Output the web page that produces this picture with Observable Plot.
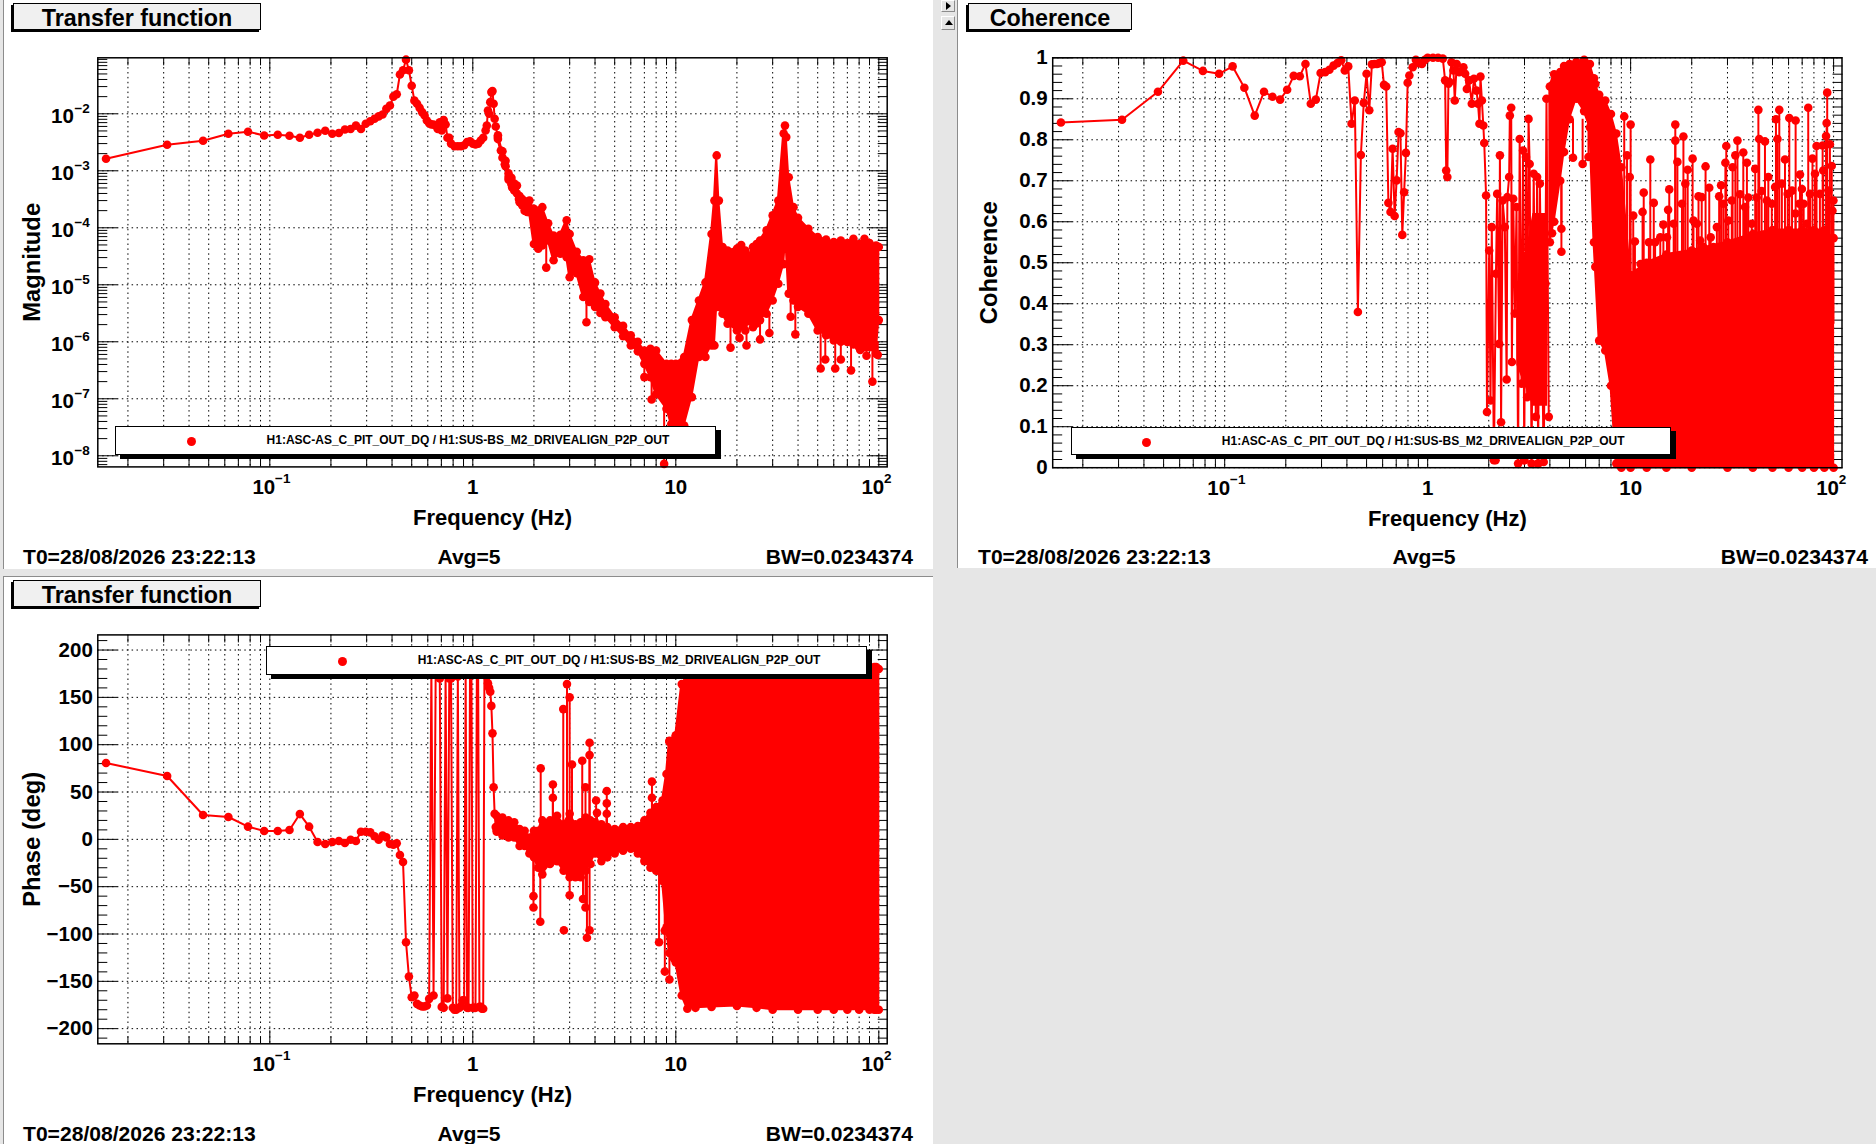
<!DOCTYPE html>
<html><head><meta charset="utf-8">
<script src="https://cdn.jsdelivr.net/npm/d3@7"></script>
<script src="https://cdn.jsdelivr.net/npm/@observablehq/plot@0.6"></script>
<style>
html,body{margin:0;padding:0;background:#e6e6e6;width:1876px;height:1144px;overflow:hidden}
body{font-family:"Liberation Sans",Arial,sans-serif;font-weight:700;color:#000;position:relative}
.abs{position:absolute}
.white{position:absolute;background:#fff;border-left:1px solid #8c8c8c;box-sizing:border-box}
.title{position:absolute;background:#f0f0f0;border:1px solid #000;box-shadow:-2px 2px 0 #000;font-size:23.3px;text-align:center;box-sizing:border-box;line-height:29px}
.foot{position:absolute;font-size:21.1px;line-height:24px;white-space:nowrap}
.legend{position:absolute;background:#fff;border:1px solid #000;box-shadow:5px 4px 0 #000;box-sizing:border-box}
.legend i{position:absolute;width:9px;height:9px;border-radius:50%;background:#f00;top:10px}
.legend span{position:absolute;top:0;line-height:27px;font-size:12px;white-space:nowrap}
.btn{position:absolute;background:#e6e6e6;border:1px solid;border-color:#fff #8c8c8c #8c8c8c #fff;box-sizing:border-box}
.btn b{position:absolute;width:0;height:0;border-style:solid;border-color:transparent}
svg{position:absolute;left:0;top:0}
</style></head><body>
<script>
// ---------- shared labels and ticks ----------
const titleMag = "Transfer function", titleCoh = "Coherence", titlePhase = "Transfer function";
const freqLabel = "Frequency (Hz)";
const legendText = "H1:ASC-AS_C_PIT_OUT_DQ / H1:SUS-BS_M2_DRIVEALIGN_P2P_OUT";
const footLeft = "T0=28/08/2026 23:22:13", footMid = "Avg=5", footRight = "BW=0.0234374";
const freqDomain = [0.01421, 110];
const freqMajor = [0.1, 1, 10, 100];
const freqMinor = [0.02,0.03,0.04,0.05,0.06,0.07,0.08,0.09,0.2,0.3,0.4,0.5,0.6,0.7,0.8,0.9,2,3,4,5,6,7,8,9,20,30,40,50,60,70,80,90];

// ---------- magnitude ----------
const magF = [.0156,.0312,.0469,.0625,.0781,.0938,.1094,.125,.1406,.1562,.1719,.1875,.2031,.2188,.2344,.25,.2656,.2812,.2969,.3125,.3281,.3438,.3594,.375,.3906,.4062,.4219,.4375,.4531,.4688,.4844,.5,.5156,.5312,.5469,.5625,.5781,.5938,.6094,.625,.6406,.6562,.6719,.6875,.7031,.7188,.7344,.75,.7656,.7812,.8125,.8438,.875,.9062,.9375,.9688,1,1.031,1.0625,1.094,1.125,1.156,1.172,1.1875,1.203,1.219,1.234,1.25,1.266,1.281,1.297,1.328,1.375,1.4375,1.5,1.5625,1.625,1.6875,1.75,1.8125,1.875];
const magV = [1.63e-3,2.86e-3,3.36e-3,4.46e-3,4.83e-3,4.17e-3,4.28e-3,4.11e-3,3.79e-3,4.28e-3,4.64e-3,5.03e-3,4.46e-3,4.6e-3,5.3e-3,5.4e-3,6.2e-3,5.4e-3,6.7e-3,7.4e-3,8.2e-3,9.0e-3,9.7e-3,1.22e-2,1.4e-2,2.0e-2,2.2e-2,4.9e-2,5.8e-2,8.9e-2,5.8e-2,3.1e-2,1.7e-2,1.5e-2,1.27e-2,1.07e-2,9.4e-3,7.6e-3,6.8e-3,6.5e-3,6.5e-3,6.2e-3,5.4e-3,7.1e-3,5.1e-3,7.8e-3,6.5e-3,3.8e-3,3.8e-3,3.0e-3,2.7e-3,2.7e-3,2.7e-3,2.8e-3,3.2e-3,3.3e-3,3.0e-3,2.9e-3,3.0e-3,3.4e-3,3.8e-3,5.1e-3,6.2e-3,1.14e-2,1.0e-2,1.6e-2,2.4e-2,2.5e-2,1.5e-2,8.2e-3,6e-3,3.9e-3,2.27e-3,1.3e-3,7.8e-4,5.1e-4,5.2e-4,3.2e-4,3e-4,2e-4,1.9e-4];
const magBandF = [1.33,1.4,1.45,1.5,1.55,1.6,1.65,1.7,1.75,1.8,1.85,1.9,2,2.2,2.35,2.5,2.7,2.9,3,3.25,3.5,3.75,4,4.25,4.5,5,5.5,6,6.5,7,7.5,8,9,9.5,10,11,12,13,14,15,15.5,15.9,16.3,17,18,20,21,22,23,24,25,26,28,30,32,34,34.5,35,36,38,40,45,50,55,60,65,70,75,80,85,90,97,100];
const magBandHi = [4.2e-3,2.2e-3,1.5e-3,9e-4,7.5e-4,6e-4,5.5e-4,3.6e-4,3.2e-4,2.8e-4,2.9e-4,3e-4,2.15e-4,2.3e-4,1.2e-4,7.3e-5,7.5e-5,1.35e-4,7.8e-5,3.8e-5,2.7e-5,2.8e-5,1.1e-5,7e-6,4.6e-6,2.7e-6,1.9e-6,1.3e-6,1e-6,7e-7,7.5e-7,7e-7,4.1e-7,4.1e-7,4.1e-7,5.4e-7,2.4e-6,5.3e-6,1.1e-5,7.8e-5,3e-4,1.86e-3,3e-4,4.6e-5,4e-5,4.3e-5,5e-5,4e-5,3.2e-5,4.6e-5,5.2e-5,6e-5,9e-5,1.65e-4,3e-4,4.5e-3,6.2e-3,3.9e-3,7.7e-4,2.3e-4,1.5e-4,9.6e-5,6.9e-5,6.2e-5,5.6e-5,6e-5,5.4e-5,6.4e-5,5.2e-5,6.4e-5,5.4e-5,4.9e-5,4.6e-5];
const magBandLo = [3.6e-3,1.7e-3,1.2e-3,7e-4,5.8e-4,4.5e-4,4e-4,2.8e-4,2.5e-4,2e-4,1.9e-4,1.9e-4,5.2e-5,4.9e-5,6e-5,2.7e-5,3.5e-5,3.05e-5,1.36e-5,1.6e-5,6.1e-6,5e-6,4.1e-6,3.2e-6,2.7e-6,1.8e-6,1.25e-6,8.6e-7,6.8e-7,4.1e-7,2.4e-7,1.2e-7,6.7e-8,3.6e-8,3.4e-8,3.4e-8,1.07e-7,5.4e-7,5.4e-7,8.6e-7,8.6e-7,4.1e-6,4.1e-6,3.1e-6,2.07e-6,1.58e-6,1.9e-6,1.58e-6,2.3e-6,1.8e-6,2.1e-6,2.4e-6,3.1e-6,5.3e-6,1.04e-5,2.3e-5,4.6e-5,4.6e-5,7e-6,5.3e-6,4.1e-6,3.1e-6,1.58e-6,1.3e-6,1.05e-6,1e-6,9.9e-7,9e-7,8e-7,8e-7,8e-7,6.2e-7,2.4e-6];
const magSpikeF = [2.1,2.3,3.63,7,7.6,8.76,18.6,20.6,22.3,26,28.9,36.8,38.8,51.7,54.5,61,65,73,81,87,93,98.8];
const magSpikeTip = [4.3e-5,2e-5,2.2e-6,2.4e-7,9.7e-8,7.2e-9,7.9e-7,1.17e-6,8.6e-7,1.1e-6,1.43e-6,2.75e-6,1.35e-6,3.4e-7,4.9e-7,3.4e-7,4.9e-7,3.15e-7,7.2e-7,5.7e-7,2e-7,5.9e-7];
const magSpikeBase = [2e-4,1e-4,1e-5,5e-7,3e-7,1e-7,2.5e-6,2e-6,2e-6,2.4e-6,3e-6,7e-6,5e-6,1.5e-6,1.5e-6,1e-6,1e-6,9e-7,8e-7,8e-7,7e-7,1e-6];
const magDomain = [6.38e-9, 0.096];
const magMajor = [1e-8,1e-7,1e-6,1e-5,1e-4,1e-3,1e-2];
const magMinor = [7e-9,8e-9,9e-9,2e-8,3e-8,4e-8,5e-8,6e-8,7e-8,8e-8,9e-8,2e-7,3e-7,4e-7,5e-7,6e-7,7e-7,8e-7,9e-7,2e-6,3e-6,4e-6,5e-6,6e-6,7e-6,8e-6,9e-6,2e-5,3e-5,4e-5,5e-5,6e-5,7e-5,8e-5,9e-5,2e-4,3e-4,4e-4,5e-4,6e-4,7e-4,8e-4,9e-4,2e-3,3e-3,4e-3,5e-3,6e-3,7e-3,8e-3,9e-3,2e-2,3e-2,4e-2,5e-2,6e-2,7e-2,8e-2,9e-2];

// ---------- coherence ----------
const cohF = [.0156,.0312,.0469,.0625,.0781,.0938,.1094,.125,.1406,.1562,.1719,.1875,.2031,.2188,.2344,.25,.2656,.2812,.2969,.3125,.3281,.3438,.3594,.375,.3906,.4062,.4219,.4375,.4531,.4688,.4844,.5,.5156,.5312,.5469,.5625,.5781,.5938,.6094,.625,.6406,.6562,.6719,.6875,.7031,.7188,.7344,.75,.7656,.7812,.7969,.8125,.8438,.875,.9062,.9375,.9688,1,1.0625,1.125,1.1875,1.219,1.234,1.25,1.266,1.281,1.31,1.34,1.36,1.39,1.43,1.5,1.53,1.56,1.6,1.65,1.69,1.74,1.77,1.8,1.82,1.85,1.88,1.9,1.94,1.96,2.01,2.04,2.07,2.12,2.17,2.2,2.25,2.27,2.3,2.34,2.4,2.45,2.47,2.52,2.54,2.58,2.6,2.64,2.69,2.74,2.79,2.84,2.9,2.95,2.99,3.05,3.09,3.14,3.18,3.25,3.33,3.41,3.46,3.5,3.57,3.68,3.73,3.8,3.85,3.95];
const cohV = [.842,.849,.917,.993,.968,.961,.979,.927,.859,.917,.905,.898,.922,.956,.955,.985,.888,.898,.963,.965,.971,.981,.987,.994,.969,.979,.839,.896,.38,.763,.89,.961,.872,.984,.985,.985,.987,.989,.934,.93,.646,.624,.778,.614,.701,.819,.816,.568,.672,.768,.939,.957,.977,.995,.987,.985,.995,1,1,1,.998,.945,.725,.709,.937,.941,.989,.969,.896,.985,.965,.977,.961,.924,.945,.888,.949,.92,.888,.839,.954,.896,.835,.792,.664,.136,.53,.164,.587,.018,.473,.668,.302,.762,.111,.652,.587,.215,.66,.709,.859,.878,.258,.656,.376,.636,.01,.802,.205,.774,.018,.758,.172,.851,.741,.01,.717,.124,.709,.01,.693,.217,.014,.449,.9,.124];
const cohFillF = [2.75,3.3,3.9], cohFillHi = [.4,.62,.62], cohFillLo = [.25,.15,.15];
const cohBandF = [4,4.2,4.5,4.7,5,5.4,5.9,6.3,6.6,6.7,7,7.5,8,8.5,9,10,12,15,20,30,40,50,60,70,80,90,100];
const cohBandHi = [.93,.96,.965,.98,.985,.99,.995,.985,.95,.936,.91,.896,.863,.815,.733,.47,.5,.52,.53,.55,.57,.58,.58,.58,.58,.58,.56];
const cohBandLo = [.55,.6,.7,.77,.85,.9,.87,.83,.55,.49,.31,.286,.2,.01,0,0,0,0,0,0,0,0,0,0,0,0,0];
const cohSpikeF = [9.3,10,10.3,9.6,9.9,11.6,11.45,12.5,13,15.5,15.3,14.5,16.6,16.6,18.2,17,19.1,20.2,21.6,23.4,22.4,24.4,27.3,27.9,29.6,29.3,33.6,32.8,31.8,35.9,37.4,41.1,42.6,43,45.9,47.7,52,54,52.9,57.6,60.5,65,75,69.8,68.3,82.4,78.7,93,92.4,91.8,95.9,97.9,88.3,99.8,10.5,11.2,12.3,13.2,14,15.1,16.3,17.9,18.6,20.4,21.2,22,22.8,24.8,25.6,26.6,28.1,28.6,30.3,31.5,34.6,36.6,38,39.5,41.8,44.2,46.9,49.6,51.5,55.6,59.4,62.4,64.9,67.8,71.2,73.8,76.5,81,85.6,88.9,94.3,98.7,5.2,5.8,4.56,4.56,4.1,6.2,2.16,2.99,3.5,8.9];
const cohSpikeTip = [.857,.837,.615,.762,.709,.671,.624,.752,.646,.679,.629,.593,.837,.798,.808,.746,.727,.754,.662,.735,.66,.683,.662,.689,.785,.744,.798,.762,.733,.769,.744,.729,.873,.802,.796,.709,.85,.873,.802,.752,.853,.847,.878,.68,.715,.785,.754,.915,.841,.809,.789,.736,.786,.652,.552,.497,.55,.55,.562,.562,.595,.644,.693,.603,.595,.554,.538,.562,.538,.587,.538,.644,.603,.652,.667,.636,.659,.595,.659,.675,.652,.644,.685,.693,.668,.676,.62,.644,.644,.595,.668,.717,.668,.725,.676,.627,.756,.741,.527,.583,.572,.758,.018,.018,.01,.005];
const cohSpikeBase = cohSpikeTip.map((t, i) => i < 96 ? .35 : [.85,.85,.7,.7,.6,.85,.018,.018,.01,.005][i - 96]);
const cohDomain = [0, 1];
const cohMajor = [0,.1,.2,.3,.4,.5,.6,.7,.8,.9,1];
const cohMinor = [.02,.04,.06,.08,.12,.14,.16,.18,.22,.24,.26,.28,.32,.34,.36,.38,.42,.44,.46,.48,.52,.54,.56,.58,.62,.64,.66,.68,.72,.74,.76,.78,.82,.84,.86,.88,.92,.94,.96,.98];

// ---------- phase ----------
const phaseF = [.0156,.0312,.0469,.0625,.0781,.0938,.1094,.125,.1406,.1562,.1719,.1875,.2031,.2188,.2344,.25,.2656,.2812,.2969,.3125,.3281,.3438,.3594,.375,.3906,.4062,.4219,.4375,.4531,.4688,.4844,.5,.5156,.5312,.5469,.5625,.5781,.5938,.6094,.625,.6406,.6562,.6719,.6875,.7031,.7188,.7344,.75,.7656,.7812,.7969,.8125,.8281,.8438,.8594,.875,.8906,.9062,.9219,.9375,.9531,.9688,.9844,1,1.016,1.031,1.047,1.0625,1.078,1.094,1.109,1.125,1.141,1.156,1.172,1.1875,1.203,1.219,1.234,1.25,1.266,1.281,1.297,1.312];
const phaseV = [80.6,66.9,25.7,23.6,13.4,8.8,8.8,9.9,26.7,13.4,-2.8,-4.9,-2.8,-1.8,-3.9,-.4,-1.8,8.1,8.1,7.4,3.2,-.4,3.9,2.1,-4.9,-5.6,-4.2,-16.5,-23.9,-108.7,-145,-166.8,-165,-173.8,-175.6,-176.6,-176.6,-175.6,-168.5,178,-165,175,175,170,-177,-178,175,-168,170,170,-178,-180,-180,172,-178,-176,-170,-170,175,-178,-178,178,178,-178,-178,-178,178,178,-177,-177,-179,-179,178,175,172,165,160,156,141,112,55,27,13,8];
const phaseBandF = [1.31,1.4,1.5,1.6,1.7,1.8,1.9,2,2.1,2.2,2.4,2.6,2.8,3,3.2,3.4,3.6,3.8,4,4.3,4.6,5,5.5,6,6.5,7,7.5,8,8.6,9,9.3,10,10.7,11.4,12.5,15,20,25,30,40,50,60,70,80,90,95,97,100];
const phaseBandHi = [25,23,20,18,11,9,2,9,9,20,20,25,16,27,16,18,23,20,18,16,13,11,13,13,14,20,28,34,41,69,104,110,164,169,180,180,180,180,180,180,180,180,180,180,182,182,182,180];
const phaseBandLo = [10,4,2,2,-7,-7,-15,-19,-30,-37,-26,-23,-33,-40,-40,-40,-33,-26,-15,-23,-19,-15,-12,-10,-15,-23,-30,-33,-44,-93,-120,-130,-165,-179,-178,-177,-176,-178,-180,-180,-180,-180,-180,-180,-180,-180,-180,-180];
const phaseSpikeF = [2.16,2.15,1.99,1.99,2.48,2.48,2.79,2.91,3,3,3.08,3.46,3.59,3.49,3.59,3.65,3.76,3.76,3.76,4.05,4.09,4.57,4.57,4.57,7.63,7.63,8.27,8.83,8.83,9.3,9.8,9.3,10,2.81];
const phaseSpikeTip = [75,-87,-72,-60,58,44,137.6,164,150,-59,79,83,55,-63,-72,-104,-96,102,89,41,28,51,38,27,61,44,-108.7,-96.4,-139.7,-148,-126,103,109,-96];
const phaseSpikeBase = [0,0,0,0,0,0,0,0,0,0,0,0,0,0,0,0,0,0,0,0,0,0,0,0,0,0,0,0,0,0,0,0,0,-96];
const phaseDomain = [-216, 216];
const phaseMajor = [-200,-150,-100,-50,0,50,100,150,200];
const phaseMinor = [-210,-190,-180,-170,-160,-140,-130,-120,-110,-90,-80,-70,-60,-40,-30,-20,-10,10,20,30,40,60,70,80,90,110,120,130,140,160,170,180,190,210];

// ---------- helpers ----------
const RED = "#ff0000", FONT = '"Liberation Sans", Arial, sans-serif';
const rows = (a, b) => a.map((x, i) => ({x, v: b[i]}));
const band = (f, hi, lo) => f.map((x, i) => ({x, hi: hi[i], lo: lo[i]}));
const spikes = (f, tip, base) => f.map((x, i) => ({x, tip: tip[i], base: base[i]}));

function drawPanel(p) {
  const line = rows(p.f, p.v);
  const bd = band(p.bf, p.bh, p.bl);
  const sp = spikes(p.sf, p.st, p.sb);
  const fill = p.fillF ? band(p.fillF, p.fillH, p.fillL) : [];
  const lab = {tickSize: 0, stroke: "none", label: null, fill: "#000"};
  const ink = {stroke: "#000", fill: "none", strokeOpacity: 1, label: null};
  return Plot.plot({
    width: p.w, height: p.h,
    marginLeft: p.ml, marginRight: p.mr, marginTop: p.mt, marginBottom: p.mb,
    x: {type: "log", domain: freqDomain, axis: null},
    y: {type: p.ytype, domain: p.yd, axis: null},
    style: {background: "none", fontFamily: FONT, fontWeight: 700, color: "#000", overflow: "visible", position: "absolute", left: 0, top: 0},
    marks: [
      Plot.gridX(freqMajor.concat(freqMinor), {stroke: "#000", strokeOpacity: 1, strokeDasharray: "1.5,3.4", strokeWidth: 1}),
      Plot.gridY(p.yMajor, {stroke: "#000", strokeOpacity: 1, strokeDasharray: "1.5,3.4", strokeWidth: 1}),
      Plot.axisX(freqMajor, {anchor: "bottom", tickSize: -13, ...ink}),
      Plot.axisX(freqMinor, {anchor: "bottom", tickSize: -7, ...ink}),
      Plot.axisX(freqMajor, {anchor: "top", tickSize: -13, ...ink}),
      Plot.axisX(freqMinor, {anchor: "top", tickSize: -7, ...ink}),
      Plot.axisY(p.yMajor, {anchor: "left", tickSize: -20, ...ink}),
      Plot.axisY(p.yMinor, {anchor: "left", tickSize: -10, ...ink}),
      Plot.axisY(p.yMajor, {anchor: "right", tickSize: -20, ...ink}),
      Plot.axisY(p.yMinor, {anchor: "right", tickSize: -10, ...ink}),
      Plot.areaY(bd, {x: "x", y1: "lo", y2: "hi", fill: RED, stroke: RED, strokeWidth: 2}),
      fill.length ? Plot.areaY(fill, {x: "x", y1: "lo", y2: "hi", fill: RED}) : null,
      Plot.line(line, {x: "x", y: "v", stroke: RED, strokeWidth: 2}),
      Plot.ruleX(sp, {x: "x", y1: "base", y2: "tip", stroke: RED, strokeWidth: 2}),
      Plot.dot(line, {x: "x", y: "v", r: 4.3, fill: RED}),
      Plot.dot(bd, {x: "x", y: "hi", r: 4.3, fill: RED}),
      Plot.dot(bd, {x: "x", y: "lo", r: 4.3, fill: RED}),
      Plot.dot(sp, {x: "x", y: "tip", r: 4.3, fill: RED}),
      Plot.frame({stroke: "#000", strokeWidth: 1.5}),
      ...p.yLabels,
      Plot.axisX([1, 10], {anchor: "bottom", ...lab, tickPadding: p.xPad, fontSize: 20.5, tickFormat: d => d === 1 ? "1" : "10"}),
      Plot.axisX([0.1], {anchor: "bottom", ...lab, tickPadding: p.xPad, fontSize: 20.5, dx: -6, tickFormat: () => "10"}),
      Plot.axisX([0.1], {anchor: "bottom", ...lab, tickPadding: p.xPad - 6, fontSize: 13.5, dx: 13, tickFormat: () => "−1"}),
      Plot.axisX([100], {anchor: "bottom", ...lab, tickPadding: p.xPad, fontSize: 20.5, dx: -6, tickFormat: () => "10"}),
      Plot.axisX([100], {anchor: "bottom", ...lab, tickPadding: p.xPad - 6, fontSize: 13.5, dx: 9, tickFormat: () => "2"}),
      Plot.text([freqLabel], {text: d => d, frameAnchor: "bottom", dy: p.xLabDy, fontSize: 22, fill: "#000"}),
      Plot.text([p.yLabel], {text: d => d, frameAnchor: "left", textAnchor: "middle", rotate: -90, dx: p.yLabDx, fontSize: 23.8, fill: "#000"})
    ]
  });
}

function box(cls, l, t, w, h) {
  const d = document.createElement("div");
  d.className = cls; Object.assign(d.style, {left: l + "px", top: t + "px", width: w + "px", height: h + "px"});
  document.body.appendChild(d); return d;
}
function footers(x0, xMid, xRight, y) {
  const a = box("foot", x0, y, 300, 24); a.textContent = footLeft;
  const b = box("foot", xMid - 50, y, 100, 24); b.textContent = footMid; b.style.textAlign = "center";
  const c = box("foot", xRight - 300, y, 300, 24); c.textContent = footRight; c.style.textAlign = "right";
}
function title(text, l, t, w, h) { const d = box("title", l, t, w, h); d.textContent = text; }
function legend(l, t, w, h, dotX, textX) {
  const d = box("legend", l, t, w, h);
  const i = document.createElement("i"); i.style.left = (dotX - l - 4.5) + "px"; d.appendChild(i);
  const s = document.createElement("span"); s.style.left = (textX - l) + "px"; s.textContent = legendText; d.appendChild(s);
}
function holder(l, t, w, h, node) { const d = box("abs", l, t, w, h); d.appendChild(node); return d; }
function button(t, h, side) {
  const d = box("btn", 941, t, 14, h);
  const b = document.createElement("b");
  if (side === "right") Object.assign(b.style, {left: "4px", top: (h / 2 - 5) + "px", borderWidth: "4px 0 4px 5px", borderLeftColor: "#000"});
  else Object.assign(b.style, {left: "2.5px", top: (h / 2 - 4) + "px", borderWidth: "0 4px 5px 4px", borderBottomColor: "#000"});
  d.appendChild(b);
}

// ---------- page ----------
box("white", 3, 0, 930, 569);
box("white", 957, 0, 919, 568);
const p3 = box("white", 3, 576, 930, 568); p3.style.borderTop = "1px solid #8c8c8c";
button(0, 12, "right");
button(16, 14, "up");

const expText = d => "−" + Math.round(-Math.log10(d));
holder(0, 0, 935, 570, drawPanel({
  w: 935, h: 570, ml: 97.3, mr: 48.3, mt: 57.3, mb: 103.6,
  ytype: "log", yd: magDomain, yMajor: magMajor, yMinor: magMinor,
  f: magF, v: magV, bf: magBandF, bh: magBandHi, bl: magBandLo, sf: magSpikeF, st: magSpikeTip, sb: magSpikeBase,
  yLabels: [
    Plot.axisY(magMajor, {anchor: "left", tickSize: 0, stroke: "none", label: null, fill: "#000", tickPadding: 24, fontSize: 20.5, tickFormat: () => "10", dy: 3}),
    Plot.axisY(magMajor, {anchor: "left", tickSize: 0, stroke: "none", label: null, fill: "#000", tickPadding: 8, fontSize: 13.5, dy: -5, tickFormat: expText})
  ],
  xPad: 13, xLabDy: 58, yLabel: "Magnitude", yLabDx: -65
}));
holder(936, 0, 940, 570, drawPanel({
  w: 940, h: 570, ml: 116.2, mr: 34.5, mt: 57.3, mb: 102.8,
  ytype: "linear", yd: cohDomain, yMajor: cohMajor, yMinor: cohMinor,
  f: cohF, v: cohV, bf: cohBandF, bh: cohBandHi, bl: cohBandLo, sf: cohSpikeF, st: cohSpikeTip, sb: cohSpikeBase,
  fillF: cohFillF, fillH: cohFillHi, fillL: cohFillLo,
  yLabels: [Plot.axisY(cohMajor, {anchor: "left", tickSize: 0, stroke: "none", label: null, fill: "#000", tickPadding: 5, fontSize: 20.5, tickFormat: d => String(d)})],
  xPad: 13, xLabDy: 58, yLabel: "Coherence", yLabDx: -63
}));
holder(0, 570, 935, 574, drawPanel({
  w: 935, h: 574, ml: 97.3, mr: 48.3, mt: 64.4, mb: 100.7,
  ytype: "linear", yd: phaseDomain, yMajor: phaseMajor, yMinor: phaseMinor,
  f: phaseF, v: phaseV, bf: phaseBandF, bh: phaseBandHi, bl: phaseBandLo, sf: phaseSpikeF, st: phaseSpikeTip, sb: phaseSpikeBase,
  yLabels: [Plot.axisY(phaseMajor, {anchor: "left", tickSize: 0, stroke: "none", label: null, fill: "#000", tickPadding: 5, fontSize: 20.5, tickFormat: d => d < 0 ? "−" + (-d) : String(d)})],
  xPad: 13, xLabDy: 58, yLabel: "Phase (deg)", yLabDx: -65
}));

legend(115, 425.5, 601, 29, 190.6, 265.6);
legend(1071, 426.5, 600, 28.5, 1145, 1220.8);
legend(266, 646, 601, 29, 341, 416.7);

title(titleMag, 13, 3, 248, 27);
title(titleCoh, 968, 3, 164, 27);
title(titlePhase, 13, 580, 248, 27);

footers(23, 469, 913, 545);
footers(978, 1424, 1868, 545);
footers(23, 469, 913, 1122);
</script>
</body></html>
